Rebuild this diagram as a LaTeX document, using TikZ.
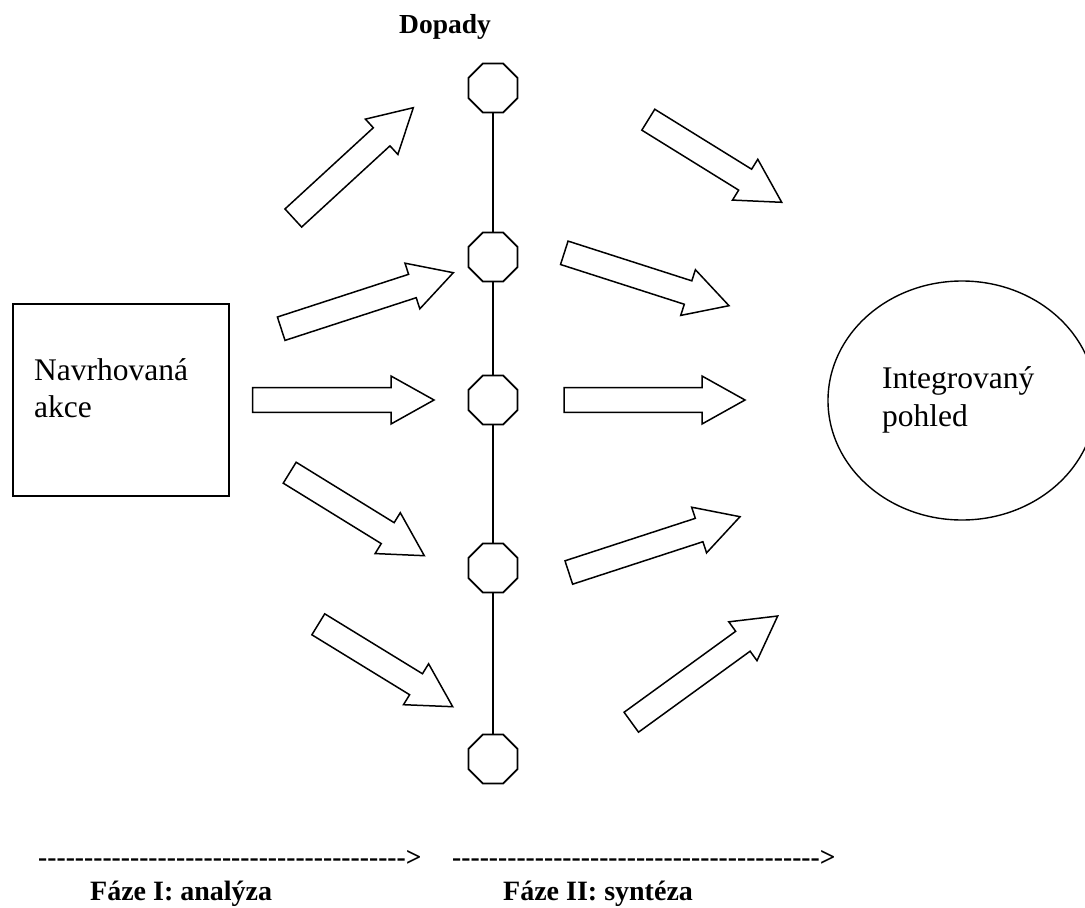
\documentclass[tikz,border=0pt]{standalone}
\usepackage{fontspec}
\setmainfont{Liberation Serif}
\usetikzlibrary{calc,shapes.geometric}
\tikzset{
  oct/.style={draw, regular polygon, regular polygon sides=8, minimum size=53pt, inner sep=0pt, line width=1.8pt, fill=white},
  barrow/.style={draw, line width=1.5pt, line join=miter, fill=white},
  vline/.style={line width=1.3pt},
  bodytext/.style={font=\fontsize{31.5}{37.5}\selectfont, inner sep=0pt, anchor=base west},
  boldlbl/.style={font=\fontsize{28}{32}\selectfont\bfseries, inner sep=0pt, anchor=base west},
  dashrow/.style={font=\fontsize{27.6}{32}\selectfont\bfseries, inner sep=0pt, anchor=base west},
}
\newcommand\hyphrow[1]{\foreach \i in {1,...,#1}{-\kern0pt}}
% #1 name, #2 tail coordinate, #3 tip coordinate
\newcommand\blockarr[3]{%
  \coordinate (#1b) at ($(#3)!43pt!(#2)$);
  \draw[barrow] ($(#2)!12.3pt!90:(#3)$) -- ($(#1b)!12.3pt!-90:(#2)$)
    -- ($(#1b)!24pt!-90:(#2)$) -- (#3) -- ($(#1b)!24pt!90:(#2)$)
    -- ($(#1b)!12.3pt!90:(#2)$) -- ($(#2)!12.3pt!-90:(#3)$) -- cycle;}
\begin{document}
\begin{tikzpicture}[x=1pt,y=-1pt]
\useasboundingbox (0,0) rectangle (1085,908);

% title
\node[font=\fontsize{27.5}{32}\selectfont\bfseries, inner sep=0pt, anchor=base] (dop) at (445,33) {Dopady};

% impacts axis
\node[oct] (o1) at (493,88) {};
\node[oct] (o2) at (493,257) {};
\node[oct] (o3) at (493,400) {};
\node[oct] (o4) at (493,568) {};
\node[oct] (o5) at (493,759) {};
\draw[vline] (o1) -- (o2) -- (o3) -- (o4) -- (o5);

% proposed action
\node[draw, line width=1.7pt, minimum width=216pt, minimum height=192pt, inner sep=0pt] (act) at (121,400) {};
\node[bodytext] (act1) at (34,380) {Navrhovaná};
\node[bodytext] (act2) at (34,417.5) {akce};

% integrated view
\node[draw, ellipse, line width=1.4pt, minimum width=268pt, minimum height=239pt, inner sep=0pt] (view) at (962,400.5) {};
\node[bodytext] (view1) at (882,388) {Integrovaný};
\node[bodytext] (view2) at (882,426) {pohled};

% arrows, phase I
\coordinate (l1t) at (293.3,218);   \coordinate (l1h) at (413.3,107.7);
\coordinate (l2t) at (281.2,328.7); \coordinate (l2h) at (453.3,272.7);
\coordinate (l3t) at (252.7,400);   \coordinate (l3h) at (434,400);
\coordinate (l4t) at (289.7,472.7); \coordinate (l4h) at (424.3,555.7);
\coordinate (l5t) at (318.3,624.3); \coordinate (l5h) at (452.7,706.7);
\blockarr{l1}{l1t}{l1h}
\blockarr{l2}{l2t}{l2h}
\blockarr{l3}{l3t}{l3h}
\blockarr{l4}{l4t}{l4h}
\blockarr{l5}{l5t}{l5h}

% arrows, phase II
\coordinate (r1t) at (648.3,119.7); \coordinate (r1h) at (781.7,202.3);
\coordinate (r2t) at (564.3,252.8); \coordinate (r2h) at (729,305.7);
\coordinate (r3t) at (564,400);     \coordinate (r3h) at (745,400);
\coordinate (r4t) at (568.8,572.5); \coordinate (r4h) at (740,516.7);
\coordinate (r5t) at (631.3,722.2); \coordinate (r5h) at (777.7,616);
\blockarr{r1}{r1t}{r1h}
\blockarr{r2}{r2t}{r2h}
\blockarr{r3}{r3t}{r3h}
\blockarr{r4}{r4t}{r4h}
\blockarr{r5}{r5t}{r5h}

% phases
\node[dashrow] (ph1) at (38,866) {\hyphrow{40}>};
\node[dashrow] (ph2) at (452,866) {\hyphrow{40}>};
\node[boldlbl] (lab1) at (90,900) {Fáze I: analýza};
\node[boldlbl] (lab2) at (503,900) {Fáze II: syntéza};
\end{tikzpicture}
\end{document}
